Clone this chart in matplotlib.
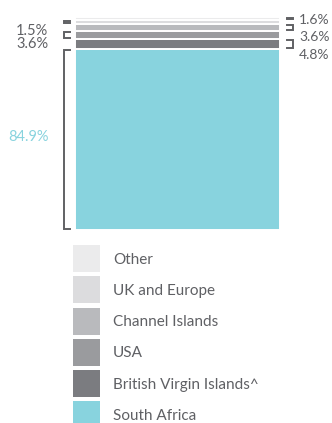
import matplotlib
matplotlib.use("Agg")
import matplotlib.pyplot as plt
import matplotlib.transforms as mtransforms
from matplotlib.patches import Rectangle

plt.rcParams['font.family'] = ['Lato', 'DejaVu Sans']

categories = ["South Africa", "British Virgin Islands^", "USA", "Channel Islands", "UK and Europe", "Other"]
values = [84.9, 4.8, 3.6, 3.6, 1.5, 1.6]
labels = ["84.9%", "4.8%", "3.6%", "3.6%", "1.5%", "1.6%"]
colors = ["#88d3de", "#7b7c80", "#9a9b9e", "#b9babd", "#dcdcde", "#ebebec"]

# layout (styling): which side each label sits, and label heights in figure pixels from top
label_side = ["left", "right", "left", "right", "left", "right"]
label_ypix = [137, 55, 44, 37, 31, 20]

W, H = 332, 423
fig = plt.figure(figsize=(W / 100, H / 100), dpi=100)
ax = fig.add_axes([75 / W, 193 / H, 205 / W, 213 / H])
ax.set_xlim(-0.5, 0.5)
ax.set_ylim(0, sum(values))
ax.axis('off')

bracket_col = "#606164"
text_col = "#5f6064"
bottom = 0.0
trans = mtransforms.blended_transform_factory(ax.transAxes, ax.transData)
ltrans = mtransforms.blended_transform_factory(ax.transAxes, fig.transFigure)
for cat, v, lab, c, side, yp in zip(categories, values, labels, colors, label_side, label_ypix):
    ax.bar(0, v, width=1.0, bottom=bottom, color=c, edgecolor="white", linewidth=1.4)
    y0, y1 = bottom + 0.45, bottom + v - 0.45
    if side == "left":
        xv, xe, xt, ha, fs = -0.054, -0.024, -0.13, "right", 10.5
    else:
        xv, xe, xt, ha, fs = 1.063, 1.034, 1.093, "left", 10
    ax.plot([xe, xv, xv, xe], [y1, y1, y0, y0], transform=trans, color=bracket_col,
            lw=1.4, clip_on=False, solid_joinstyle="miter")
    tc = "#88d3de" if cat == "South Africa" else text_col
    ax.text(xt, 1 - yp / H, lab, transform=ltrans, ha=ha, va="center", fontsize=fs, color=tc)
    bottom += v

# legend (top row = last category)
lax = fig.add_axes([0, 0, 1, 1])
lax.set_xlim(0, W)
lax.set_ylim(H, 0)
lax.axis('off')
row_top = 245
for i, (cat, c) in enumerate(zip(categories[::-1], colors[::-1])):
    y = row_top + i * 31.3
    lax.add_patch(Rectangle((73, y), 27, 27, color=c, lw=0))
    lax.text(113, y + 14.5, cat, ha="left", va="center", fontsize=11, color=text_col)

fig.savefig("out.png", dpi=100)
